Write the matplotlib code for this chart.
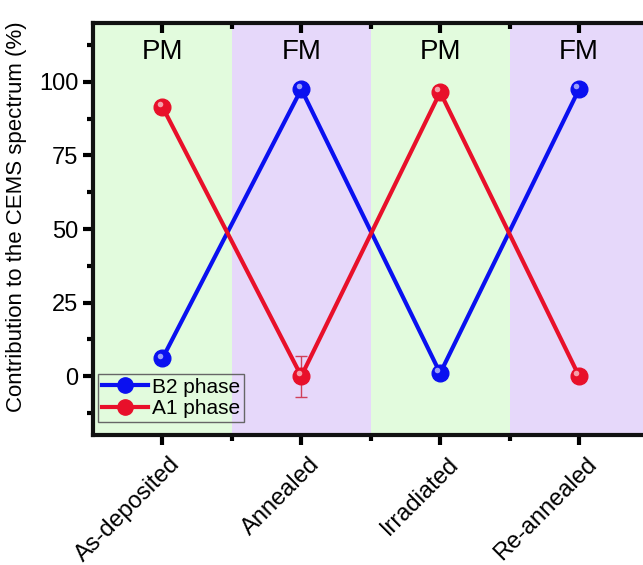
import numpy as np
import matplotlib
matplotlib.use('Agg')
import matplotlib.pyplot as plt
from matplotlib import transforms
from matplotlib.lines import Line2D

plt.rcParams['font.family'] = ['Liberation Sans', 'DejaVu Sans']

# data
stages = ['As-deposited', 'Annealed', 'Irradiated', 'Re-annealed']
states = ['PM', 'FM', 'PM', 'FM']
b2_phase = [6, 97.5, 1, 97.5]
b2_err = [1, 1, 1, 1]
a1_phase = [91.5, 0, 96.5, 0]
a1_err = [1, 7, 1, 1]

band_colors = {'PM': '#e2fbdd', 'FM': '#e6d8fa'}
blue = '#0a10f0'
red = '#e8102a'

fig = plt.figure(figsize=(6.43, 5.65), dpi=100)
ax = fig.add_axes([93 / 643, 130 / 565, 555.5 / 643, 412 / 565])

x = np.arange(len(stages))
for xi, st in zip(x, states):
    ax.axvspan(xi - 0.5, xi + 0.5, color=band_colors[st], zorder=0, lw=0)
    ax.text(xi, 110, st, ha='center', va='center', fontsize=20, zorder=5)


def sphere(xs, ys, color, label):
    ax.plot(xs, ys, '-', color=color, lw=3, zorder=2, label=label)
    ax.plot(xs, ys, 'o', color=color, ms=12, mec=color, zorder=4)
    hl = transforms.offset_copy(ax.transData, fig=fig, x=-2, y=2, units='points')
    ax.plot(xs, ys, 'o', color='white', ms=4, mew=0, alpha=0.6, zorder=5, transform=hl)


ax.errorbar(x, a1_phase, yerr=a1_err, fmt='none', ecolor='#d0405a', elinewidth=1,
            capsize=4, capthick=1, zorder=3)
ax.errorbar(x, b2_phase, yerr=b2_err, fmt='none', ecolor='#5060d0', elinewidth=1,
            capsize=3, capthick=1, zorder=3)
sphere(x, b2_phase, blue, 'B2 phase')
sphere(x, a1_phase, red, 'A1 phase')

ax.set_xlim(-0.5, 3.5)
ax.set_ylim(-20, 120)
ax.set_yticks([0, 25, 50, 75, 100])
ax.set_yticks(np.arange(-12.5, 120, 25), minor=True)
ax.set_xticks(x)
ax.set_xticks(x[:-1] + 0.5, minor=True)
ax.set_xticklabels(stages, rotation=45, ha='right', rotation_mode='anchor', fontsize=17)
ax.tick_params(axis='y', labelsize=17)
ax.set_ylabel('Contribution to the CEMS spectrum (%)', fontsize=16)
ax.yaxis.set_label_coords(-0.118, 0.53)

ax.tick_params(which='both', direction='out', width=3, top=True, right=True)
ax.tick_params(which='major', length=7)
ax.tick_params(which='minor', length=4)
ax.tick_params(axis='x', which='major', pad=6)
for s in ax.spines.values():
    s.set_linewidth(3)
    s.set_color('#111111')

# nudge the rotated labels to the right (after tick_params, which resets them)
shift = transforms.ScaledTranslation(7 / 100, 0, fig.dpi_scale_trans)
for lab in ax.get_xticklabels():
    lab.set_transform(lab.get_transform() + shift)

# top and right ticks point inward
for t in ax.xaxis.get_major_ticks() + ax.xaxis.get_minor_ticks():
    t.tick2line.set_marker(3)
for t in ax.yaxis.get_major_ticks() + ax.yaxis.get_minor_ticks():
    t.tick2line.set_marker(1)

handles = [Line2D([], [], color=blue, lw=3, marker='o', ms=11),
           Line2D([], [], color=red, lw=3, marker='o', ms=11)]
leg = ax.legend(handles, ['B2 phase', 'A1 phase'], loc='lower left', fontsize=15,
                fancybox=False, edgecolor='#666666', handlelength=2.2,
                handletextpad=0.2, borderpad=0.2, labelspacing=0.1,
                borderaxespad=0.0, framealpha=1,
                bbox_to_anchor=(5 / 555.5, 13 / 412))
leg.get_frame().set_facecolor('none')
leg.get_frame().set_linewidth(1)

fig.savefig('out.png', dpi=100)
